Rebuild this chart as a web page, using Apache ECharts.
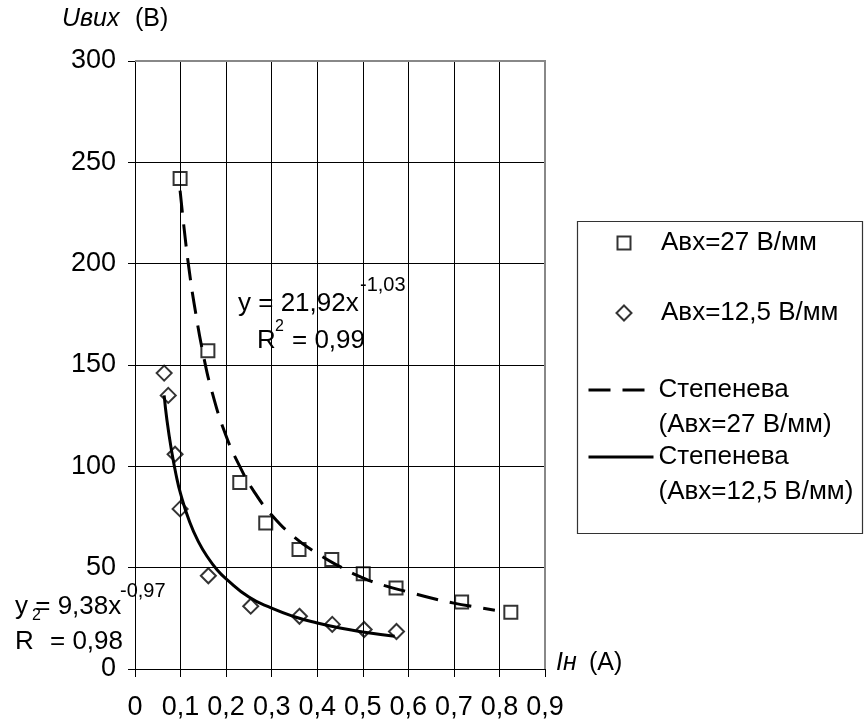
<!DOCTYPE html>
<html>
<head>
<meta charset="utf-8">
<script src="https://cdn.jsdelivr.net/npm/echarts@6/dist/echarts.min.js"></script>
<style>
  html, body { margin: 0; padding: 0; background: #fff; }
  #chart { width: 864px; height: 722px; }
</style>
</head>
<body>
<div id="chart"></div>
<script>
// ---- Data ----
const seriesNames = ['Авх=27 В/мм', 'Авх=12,5 В/мм', 'Степенева\n(Авх=27 В/мм)', 'Степенева\n(Авх=12,5 В/мм)'];

// Авх=27 В/мм (squares)
const iA27 = [0.099, 0.16, 0.23, 0.287, 0.36, 0.432, 0.501, 0.573, 0.717, 0.825];
const uA27 = [242, 157, 92, 72, 59, 54, 47, 40, 33, 28];

// Авх=12,5 В/мм (diamonds)
const iA125 = [0.064, 0.073, 0.088, 0.099, 0.161, 0.254, 0.361, 0.433, 0.503, 0.574];
const uA125 = [146, 135, 106, 79, 46, 31, 26, 22, 19.5, 18.5];

// Power trend line (Авх=27)
const trendA27X = [0.099, 0.11, 0.12, 0.13, 0.15, 0.17, 0.2, 0.23, 0.26, 0.3, 0.35, 0.4, 0.45, 0.5, 0.55, 0.6, 0.65, 0.7, 0.75, 0.79];
const trendA27Y = [236, 213, 195, 180, 155, 136, 115, 100, 88, 76, 65, 57, 50.5, 45, 41, 38, 35, 32.5, 30.5, 29];

// Power trend line (Авх=12,5)
const trendA125X = [0.064, 0.07, 0.08, 0.09, 0.1, 0.12, 0.14, 0.16, 0.18, 0.2, 0.25, 0.3, 0.35, 0.4, 0.45, 0.5, 0.57];
const trendA125Y = [135, 123, 108, 96, 86.5, 72.5, 62.5, 55, 49, 44.5, 35.5, 30, 25.8, 22.7, 20.2, 18.3, 16.2];

// Tick labels
const xTickLabels = ['0', '0,1', '0,2', '0,3', '0,4', '0,5', '0,6', '0,7', '0,8', '0,9'];
const yTickLabels = ['0', '50', '100', '150', '200', '250', '300'];

// Texts
const yAxisTitle = ['Uвих', '(В)'];
const xAxisTitle = ['Iн', '(А)'];
const eq1 = ['y = 21,92x', '-1,03', 'R', '2', '= 0,99'];
const eq2 = ['y = 9,38x', '-0,97', '2', 'R', '= 0,98'];

// ---- Chart ----
const FONT = '"Liberation Sans", Arial, sans-serif';
const zip = (a, b) => a.map((v, i) => [v, b[i]]);

const chart = echarts.init(document.getElementById('chart'), null, { renderer: 'canvas' });

const legendFont = 26;
const legendText = { fontFamily: FONT, fontSize: legendFont, color: '#000', lineHeight: 35 };

function symbolLegend(idx, centerX, centerY, size) {
  return {
    show: true,
    data: [seriesNames[idx]],
    left: centerX - size / 2,
    top: centerY - 17.5,
    orient: 'vertical',
    padding: 0,
    itemWidth: size,
    itemHeight: size,
    selectedMode: false,
    formatter: name => '{g| }{t|' + name + '}',
    textStyle: Object.assign({}, legendText, {
      rich: {
        g: { width: 660 - (centerX + size / 2 + 5), fontSize: legendFont, lineHeight: 35 },
        t: { fontFamily: FONT, fontSize: legendFont, color: '#000', lineHeight: 35 }
      }
    })
  };
}

function lineLegend(idx, left, centerY) {
  return {
    show: true,
    data: [seriesNames[idx]],
    left: left,
    top: centerY - 52.5,
    orient: 'vertical',
    padding: 0,
    itemWidth: 65,
    itemHeight: 14,
    selectedMode: false,
    itemStyle: { opacity: 0 },
    lineStyle: { width: 3, color: '#000' },
    formatter: name => ' \n' + name,
    textStyle: legendText
  };
}

const option = {
  animation: false,
  backgroundColor: '#fff',
  grid: { left: 135, right: 319, top: 61, bottom: 53, containLabel: false },
  xAxis: {
    type: 'value', min: 0, max: 0.9, interval: 0.1,
    axisLine: { show: true, onZero: false, lineStyle: { color: '#000', width: 1 } },
    axisTick: { show: true, length: 8, inside: false, lineStyle: { color: '#000' } },
    axisLabel: {
      margin: 25, fontFamily: FONT, fontSize: 27, color: '#000',
      formatter: v => xTickLabels[Math.round(v * 10)]
    },
    splitLine: { show: true, lineStyle: { color: '#000', width: 1 } }
  },
  yAxis: {
    type: 'value', min: 0, max: 300, interval: 50,
    axisLine: { show: true, onZero: false, lineStyle: { color: '#000', width: 1 } },
    axisTick: { show: true, length: 7, inside: false, lineStyle: { color: '#000' } },
    axisLabel: {
      margin: 19, fontFamily: FONT, fontSize: 27, color: '#000',
      formatter: v => yTickLabels[Math.round(v / 50)]
    },
    splitLine: { show: true, lineStyle: { color: '#000', width: 1 } }
  },
  legend: [
    symbolLegend(0, 623, 243, 13),
    symbolLegend(1, 623, 313, 15),
    lineLegend(2, 587, 390),
    lineLegend(3, 587, 457)
  ],
  series: [
    {
      name: seriesNames[0], type: 'scatter', symbol: 'rect', symbolSize: 13,
      itemStyle: { color: 'rgba(255,255,255,0)', borderColor: '#000', borderWidth: 2 },
      data: zip(iA27, uA27), z: 3
    },
    {
      name: seriesNames[1], type: 'scatter', symbol: 'diamond', symbolSize: [15, 15],
      itemStyle: { color: 'rgba(255,255,255,0)', borderColor: '#000', borderWidth: 2 },
      data: zip(iA125, uA125), z: 3
    },
    {
      name: seriesNames[2], type: 'line', smooth: true, showSymbol: false, symbol: 'none',
      lineStyle: { color: '#000', width: 3, type: [22, 12] },
      itemStyle: { color: '#000' },
      data: zip(trendA27X, trendA27Y), z: 4
    },
    {
      name: seriesNames[3], type: 'line', smooth: true, showSymbol: false, symbol: 'none',
      lineStyle: { color: '#000', width: 3, type: 'solid' },
      itemStyle: { color: '#000' },
      data: zip(trendA125X, trendA125Y), z: 4
    }
  ],
  graphic: [
    // legend frame
    { type: 'rect', shape: { x: 577.5, y: 221.5, width: 285, height: 312 }, style: { fill: 'none', stroke: '#333', lineWidth: 1.2 }, z: 0 },
    // plot frame (top / right border)
    { type: 'polyline', shape: { points: [[135, 61], [545, 61], [545, 669]] }, style: { fill: 'none', stroke: '#888', lineWidth: 2 }, z: 10 },
    // y axis title
    { type: 'text', x: 62, y: 19, style: { text: yAxisTitle[0], font: 'italic 25px ' + FONT, fill: '#000', align: 'left', verticalAlign: 'middle' } },
    { type: 'text', x: 135, y: 19, style: { text: yAxisTitle[1], font: '25px ' + FONT, fill: '#000', align: 'left', verticalAlign: 'middle' } },
    // x axis title
    { type: 'text', x: 556, y: 663, style: { text: xAxisTitle[0], font: 'italic 25px ' + FONT, fill: '#000', align: 'left', verticalAlign: 'middle' } },
    { type: 'text', x: 589, y: 663, style: { text: xAxisTitle[1], font: '25px ' + FONT, fill: '#000', align: 'left', verticalAlign: 'middle' } },
    // equation 1
    { type: 'text', x: 238, y: 304, style: { text: eq1[0], font: '26px ' + FONT, fill: '#000', align: 'left', verticalAlign: 'middle' } },
    { type: 'text', x: 360, y: 285, style: { text: eq1[1], font: '20px ' + FONT, fill: '#000', align: 'left', verticalAlign: 'middle' } },
    { type: 'text', x: 257, y: 341, style: { text: eq1[2], font: '26px ' + FONT, fill: '#000', align: 'left', verticalAlign: 'middle' } },
    { type: 'text', x: 275, y: 327, style: { text: eq1[3], font: '16px ' + FONT, fill: '#000', align: 'left', verticalAlign: 'middle' } },
    { type: 'text', x: 292, y: 341, style: { text: eq1[4], font: '26px ' + FONT, fill: '#000', align: 'left', verticalAlign: 'middle' } },
    // equation 2
    { type: 'text', x: 15, y: 607, style: { text: eq2[0], font: '26px ' + FONT, fill: '#000', align: 'left', verticalAlign: 'middle' } },
    { type: 'text', x: 120, y: 591, style: { text: eq2[1], font: '20px ' + FONT, fill: '#000', align: 'left', verticalAlign: 'middle' } },
    { type: 'text', x: 32, y: 616, style: { text: eq2[2], font: '16px ' + FONT, fill: '#000', align: 'left', verticalAlign: 'middle' } },
    { type: 'text', x: 15, y: 642, style: { text: eq2[3], font: '26px ' + FONT, fill: '#000', align: 'left', verticalAlign: 'middle' } },
    { type: 'text', x: 50, y: 642, style: { text: eq2[4], font: '26px ' + FONT, fill: '#000', align: 'left', verticalAlign: 'middle' } }
  ]
};

chart.setOption(option);
</script>
</body>
</html>
